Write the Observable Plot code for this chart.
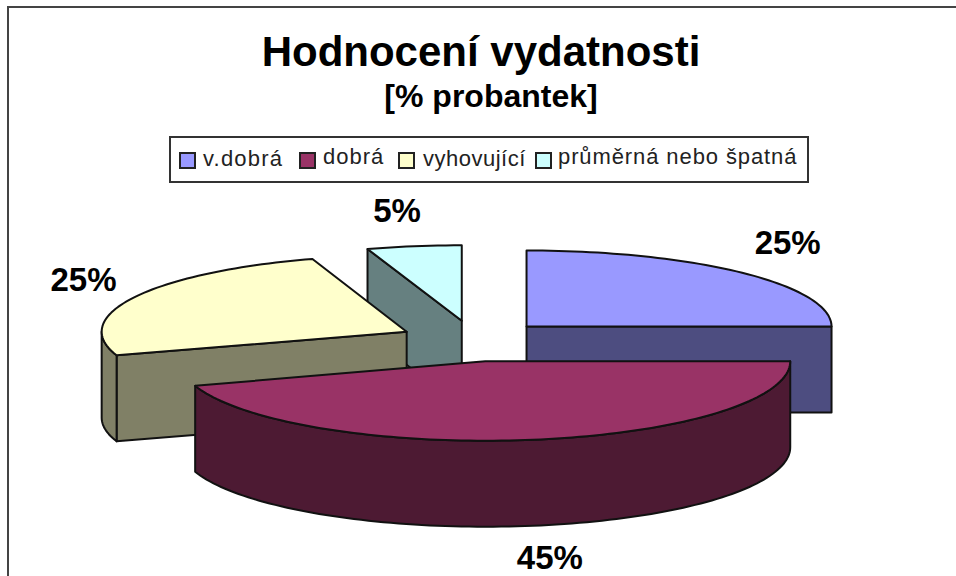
<!DOCTYPE html>
<html lang="cs">
<head>
<meta charset="utf-8">
<script src="https://cdn.jsdelivr.net/npm/d3@7"></script>
<script src="https://cdn.jsdelivr.net/npm/@observablehq/plot@0.6"></script>
<style>
  html, body { margin: 0; padding: 0; background: #fff; }
  #page { position: relative; width: 956px; height: 576px; overflow: hidden; font-family: "Liberation Sans", Arial, sans-serif; color: #000; }
  #frame { position: absolute; left: 7px; top: 6px; width: 960px; height: 568px; border-top: 2px solid #444; border-left: 2px solid #444; border-bottom: 1px solid #aaa; box-sizing: content-box; }
  #head { position: relative; height: 190px; }
  #title { position: absolute; left: 0; width: 962px; top: 28px; text-align: center; font-size: 42px; line-height: 48px; font-weight: bold; }
  #subtitle { position: absolute; left: 0; width: 982px; top: 78px; text-align: center; font-size: 32px; line-height: 36px; font-weight: bold; }
  #legend { position: absolute; left: 169px; top: 136px; width: 636px; height: 43px; border: 2px solid #333; background: #fff; }
  .sw { position: absolute; top: 14px; width: 13px; height: 13px; border: 2px solid #222; }
  .lb { position: absolute; top: 8px; font-size: 22px; line-height: 26px; color: #222; white-space: nowrap; }
  #chart { position: absolute; left: 0; top: 190px; }
  #chart svg { display: block; }
</style>
</head>
<body>
<div id="page">
  <div id="frame"></div>
  <div id="head">
    <div id="title"></div>
    <div id="subtitle"></div>
    <div id="legend"></div>
  </div>
  <div id="chart"></div>
</div>
<script>
const titleText = "Hodnocení vydatnosti";
const subtitleText = "[% probantek]";
const categories = ["v.dobrá", "dobrá", "vyhovující", "průměrná nebo špatná"];
const shares = [25, 45, 25, 5];
const topColors = ["#9999FF", "#993366", "#FFFFCC", "#CCFFFF"];
const sideColors = ["#4D4D80", "#4D1A33", "#808066", "#668080"];

// legend layout
const legendSwatchLeft = [8, 128, 227, 364];
const legendTextLeft = [32, 152, 252, 387];
const legendTextTop = [8, 6, 8, 6];
const legendSpacing = ["1.2px", "1px", "0.5px", "0.9px"];

// pie projection
const W = 956, H = 386, yTop = 190;
const cx0 = 473, cy0 = 340.5;     // undisturbed pie centre
const rx = 305, ryBase = 76, depth = 86, perspective = 0.1;
const explodeX = 75, explodeY = 20.5;
const labelRx = 375, labelRy = 113;
const labelShiftX = [-4, 6, 11, -6];
const labelShiftY = [-3, 0, 0, 2];
const labelFontSize = 33;
const rad = d => d * Math.PI / 180;

document.getElementById("title").textContent = titleText;
document.getElementById("subtitle").textContent = subtitleText;
const legend = document.getElementById("legend");
categories.forEach((c, i) => {
  const s = document.createElement("span");
  s.className = "sw";
  s.style.left = legendSwatchLeft[i] + "px";
  s.style.background = topColors[i];
  legend.appendChild(s);
  const t = document.createElement("span");
  t.className = "lb";
  t.style.left = legendTextLeft[i] + "px";
  t.style.top = legendTextTop[i] + "px";
  t.style.letterSpacing = legendSpacing[i];
  t.textContent = c;
  legend.appendChild(t);
});

// Turn the shares into angular ranges (clockwise from 12 o'clock)
const total = d3.sum(shares);
let acc = 0;
const slices = categories.map((name, i) => {
  const a0 = acc / total * 360;
  acc += shares[i];
  const a1 = acc / total * 360;
  const mid = (a0 + a1) / 2;
  const cy = cy0 - explodeY * Math.cos(rad(mid));
  return {
    name, i, a0, a1, mid, share: shares[i], cy,
    cx: cx0 + explodeX * Math.sin(rad(mid)),
    ry: ryBase + (cy - 326) * perspective
  };
});

const arcPts = (s, from, to, dz = 0) => {
  const n = Math.max(2, Math.ceil((to - from) / 1.5));
  return d3.range(n + 1).map(k => {
    const a = rad(from + (to - from) * k / n);
    return [s.cx + rx * Math.sin(a), s.cy - s.ry * Math.cos(a) + dz];
  });
};

// Build faces back to front
const faces = [];
let fid = 0;
const addFace = (pts, fill) => {
  const id = fid++;
  [...pts, pts[0]].forEach(p => faces.push({ id, x: p[0], y: p[1], fill }));
};
slices.slice().sort((a, b) => a.cy - b.cy).forEach(s => {
  const side = sideColors[s.i];
  const centre = [s.cx, s.cy];
  const centreLow = [s.cx, s.cy + depth];
  const radial = a => {
    const p = arcPts(s, a, a + 0.001)[0];
    addFace([centre, p, [p[0], p[1] + depth], centreLow], side);
  };
  if (s.a0 > 180 && s.a0 < 360) radial(s.a0);
  if (s.a1 > 0 && s.a1 < 180) radial(s.a1);
  const from = Math.max(s.a0, 90), to = Math.min(s.a1, 270);
  if (to > from) {
    const top = arcPts(s, from, to);
    const low = arcPts(s, from, to, depth).reverse();
    addFace([...top, ...low], side);
  }
  addFace([centre, ...arcPts(s, s.a0, s.a1)], topColors[s.i]);
});

const labels = slices.map(s => ({
  text: s.share + "%",
  x: s.cx + labelRx * Math.sin(rad(s.mid)) + labelShiftX[s.i],
  y: s.cy - labelRy * Math.cos(rad(s.mid)) + (Math.cos(rad(s.mid)) < 0 ? depth : 0) + labelShiftY[s.i]
}));

const plot = Plot.plot({
  width: W, height: H,
  margin: 0,
  x: { domain: [0, W], range: [0, W], axis: null },
  y: { domain: [yTop, yTop + H], range: [0, H], axis: null },
  color: { type: "identity" },
  style: { background: "transparent", overflow: "visible" },
  marks: [
    Plot.line(faces, {
      x: "x", y: "y", z: "id", fill: "fill",
      stroke: "#111", strokeWidth: 2, strokeLinejoin: "round", curve: "linear"
    }),
    Plot.text(labels, {
      x: "x", y: "y", text: "text",
      fontSize: labelFontSize, fontWeight: "bold", fontFamily: "Liberation Sans, Arial, sans-serif",
      fill: "#000", textAnchor: "middle", lineAnchor: "middle"
    })
  ]
});
document.getElementById("chart").appendChild(plot);
</script>
</body>
</html>
